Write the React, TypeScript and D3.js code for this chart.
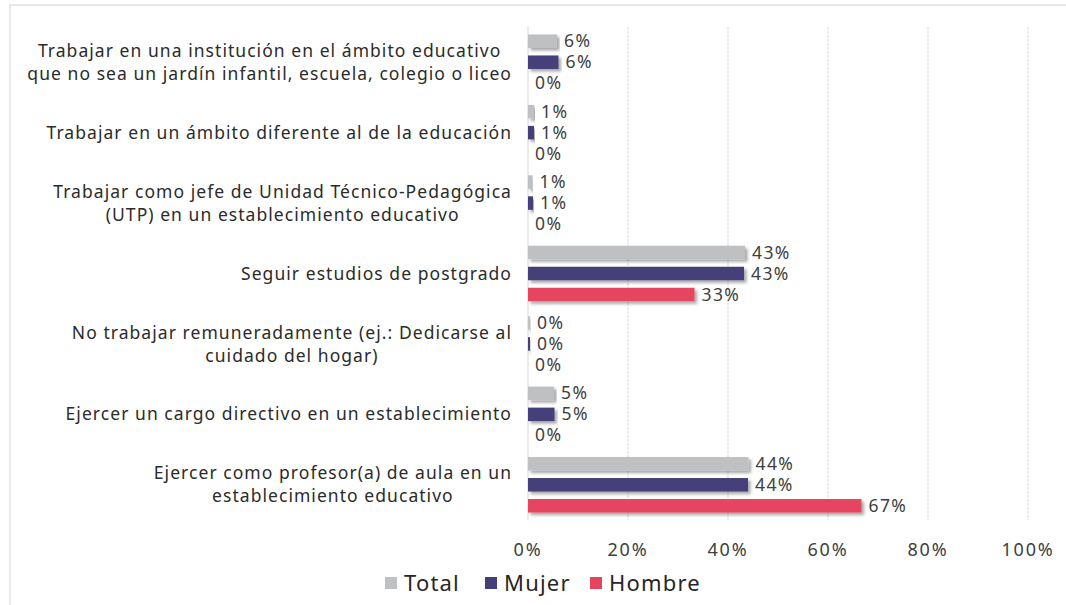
import { useMemo } from "react";
import * as d3 from "d3";

const categories = [
  "Trabajar en una institución en el ámbito educativo\nque no sea un jardín infantil, escuela, colegio o liceo",
  "Trabajar en un ámbito diferente al de la educación",
  "Trabajar como jefe de Unidad Técnico-Pedagógica\n(UTP) en un establecimiento educativo",
  "Seguir estudios de postgrado",
  "No trabajar remuneradamente (ej.: Dedicarse al\ncuidado del hogar)",
  "Ejercer un cargo directivo en un establecimiento",
  "Ejercer como profesor(a) de aula en un\nestablecimiento educativo",
];

const series = ["Total", "Mujer", "Hombre"];
const colors = ["#bfc0c2", "#453f79", "#e5445f"];

const totalValues = [5.8, 1.2, 0.9, 43.4, 0.4, 5.2, 44.1];
const mujerValues = [6.1, 1.2, 1.0, 43.2, 0.4, 5.3, 44.0];
const hombreValues = [0, 0, 0, 33.3, 0, 0, 66.7];
const values = [totalValues, mujerValues, hombreValues];

const xTicks = [0, 20, 40, 60, 80, 100];

const FONT = "'Noto Sans', sans-serif";

const measure = (() => {
  const ctx = document.createElement("canvas").getContext("2d")!;
  return (s: string, size: number, spacing: number) => {
    ctx.font = `${size}px 'Noto Sans'`;
    return ctx.measureText(s).width + spacing * s.length;
  };
})();

export default function App() {
  const width = 1066;
  const height = 605;
  const margin = { top: 27, bottom: 85, left: 528, right: 38 };

  const x = useMemo(
    () => d3.scaleLinear().domain([0, 100]).range([margin.left, width - margin.right]),
    []
  );
  const y0 = useMemo(
    () => d3.scaleBand().domain(categories).range([margin.top, height - margin.bottom]),
    []
  );
  const groupH = 63;
  const y1 = useMemo(
    () => d3.scaleBand().domain(series).range([0, groupH]),
    []
  );
  const barH = 13.5;
  const labelSize = 17.5;
  const labelSpacing = 1.05;
  const lineH = 23;

  return (
    <svg
      width={width}
      height={height}
      style={{ position: "absolute", left: 0, top: 0, background: "#fff" }}
      fontFamily={FONT}
    >
      <defs>
        <filter id="shadow" x="-5%" y="-30%" width="115%" height="180%">
          <feDropShadow dx="2.5" dy="2.5" stdDeviation="1.5" floodColor="#000" floodOpacity="0.35" />
        </filter>
      </defs>
      <rect x={10} y={5} width={1100} height={700} fill="none" stroke="#d9d9d9" strokeWidth={1.2} />

      {/* gridlines */}
      {xTicks.map((t) => (
        <line
          key={t}
          x1={x(t)}
          x2={x(t)}
          y1={margin.top}
          y2={height - margin.bottom}
          stroke="#d9d9d9"
          strokeWidth={1}
          strokeDasharray={t === 0 ? undefined : "3 1"}
        />
      ))}

      {/* category labels */}
      {categories.map((c) => {
        const lines = c.split("\n");
        const maxW = Math.max(...lines.map((l) => measure(l, labelSize, labelSpacing)));
        const cx = 512 - maxW / 2;
        const cy = (y0(c) ?? 0) + y0.bandwidth() / 2;
        return (
          <text
            key={c}
            fill="#2b2b2b"
            fontSize={labelSize}
            letterSpacing={labelSpacing}
            textAnchor="middle"
          >
            {lines.map((l, i) => (
              <tspan
                key={i}
                x={cx}
                y={cy + (i - (lines.length - 1) / 2) * lineH}
                dy="0.35em"
              >
                {l}
              </tspan>
            ))}
          </text>
        );
      })}

      {/* bars */}
      {categories.map((c, ci) => {
        const top = (y0(c) ?? 0) + (y0.bandwidth() - groupH) / 2;
        return (
          <g key={c}>
            {series.map((s, si) => {
              const v = values[si][ci];
              const yc = top + (y1(s) ?? 0) + y1.bandwidth() / 2;
              return (
                <g key={s}>
                  {v > 0 && (
                    <rect
                      x={x(0)}
                      y={yc - barH / 2}
                      width={x(v) - x(0)}
                      height={barH}
                      fill={colors[si]}
                      filter="url(#shadow)"
                    />
                  )}
                  <text
                    x={x(v) + 7}
                    y={yc}
                    dy="0.35em"
                    fontSize={17.5}
                    letterSpacing={1.4}
                    fill="#404040"
                  >
                    {`${Math.round(v)}%`}
                  </text>
                </g>
              );
            })}
          </g>
        );
      })}

      {/* x axis labels */}
      {xTicks.map((t) => (
        <text
          key={t}
          x={x(t)}
          y={550}
          dy="0.35em"
          textAnchor="middle"
          fontSize={18}
          letterSpacing={1.8}
          fill="#404040"
        >
          {`${t}%`}
        </text>
      ))}

      {/* legend */}
      {series.map((s, i) => {
        const lx = [385, 485, 590][i];
        return (
          <g key={s} transform={`translate(${lx},583)`}>
            <rect x={0} y={-6} width={12} height={12} fill={colors[i]} />
            <text x={19} y={0} dy="0.36em" fontSize={22} letterSpacing={1.2} fill="#262626">
              {s}
            </text>
          </g>
        );
      })}
    </svg>
  );
}
